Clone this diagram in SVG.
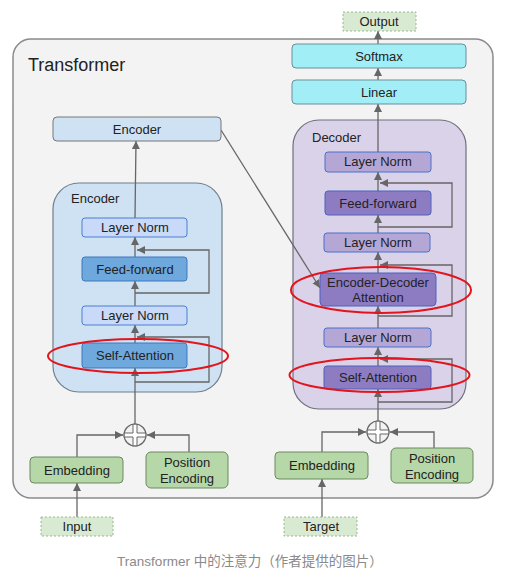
<svg xmlns="http://www.w3.org/2000/svg" width="507" height="578" viewBox="0 0 507 578">
<defs>
<marker id="ah" markerUnits="userSpaceOnUse" markerWidth="9" markerHeight="8" refX="8" refY="4" orient="auto">
<path d="M0,0 L8,4 L0,8 z" fill="#666"/>
</marker>
</defs>
<style>
text{font-family:"Liberation Sans",Arial,sans-serif;font-size:13px;fill:#222;text-anchor:middle}
.lbl{text-anchor:start}
.c{fill:none;stroke:#666;stroke-width:1.3}
.ca{fill:none;stroke:#666;stroke-width:1.3;marker-end:url(#ah)}
.enc-ln{fill:#c9daf8;stroke:#4a7fd0;stroke-width:1}
.enc-op{fill:#6fa8dc;stroke:#3d78c0;stroke-width:1}
.dec-ln{fill:#b4a7d6;stroke:#4a70cc;stroke-width:1}
.dec-op{fill:#8e7cc3;stroke:#4a62c0;stroke-width:1}
.cyan{fill:#a2eef7;stroke:#6a8f99;stroke-width:1}
.green{fill:#b6d7a8;stroke:#6b8a60;stroke-width:1}
.io{fill:#d9ead3;stroke:#9bb88f;stroke-width:1;stroke-dasharray:2 2}
.red{fill:none;stroke:#e3141b;stroke-width:2}
</style>
<rect width="507" height="578" fill="#ffffff"/>
<g id="transformer">
<rect x="13" y="39" width="480" height="459" rx="18" fill="#f3f3f3" stroke="#8a8a8a" stroke-width="1.5"/>
<text class="lbl" x="28" y="71" style="font-size:18px">Transformer</text>
</g>
<g id="encoder-group">
<rect x="53" y="183" width="169" height="209" rx="26" fill="#cfe2f3" stroke="#6f7f8c" stroke-width="1.2"/>
<text class="lbl" x="71" y="203">Encoder</text>
</g>
<g id="decoder-group">
<rect x="293" y="120" width="173" height="289" rx="26" fill="#d9d2e9" stroke="#6f6f7c" stroke-width="1.2"/>
<text class="lbl" x="312" y="142">Decoder</text>
</g>
<g id="connectors">
<path class="ca" d="M135,425 V368"/>
<path class="ca" d="M135,343 V325"/>
<path class="ca" d="M135,306 V281"/>
<path class="ca" d="M135,257 V237"/>
<path class="ca" d="M135,218 L136,141"/>
<path class="ca" d="M135,293 H209 V250 H137"/>
<path class="ca" d="M135,382 H209 V337 H137"/>
<path class="ca" d="M77,457 V435 H123"/>
<path class="ca" d="M189,452 V435 H147"/>
<path class="ca" d="M77,517 V483"/>
<path class="ca" d="M221,130 L320,288"/>
<path class="ca" d="M378,421 V389"/>
<path class="ca" d="M378,366 V347"/>
<path class="ca" d="M378,328 V306"/>
<path class="ca" d="M378,273 V252"/>
<path class="ca" d="M378,233 V215"/>
<path class="ca" d="M378,191 V172"/>
<path class="ca" d="M378,152 V104"/>
<path class="ca" d="M378,80 V68"/>
<path class="ca" d="M378,44 V31"/>
<path class="ca" d="M378,227 H452 V183 H380"/>
<path class="ca" d="M378,316 H452 V265 H380"/>
<path class="ca" d="M378,402 H452 V359 H380"/>
<path class="ca" d="M322,452 V432 H366"/>
<path class="ca" d="M434,448 V432 H390"/>
<path class="ca" d="M322,517 V479"/>
</g>
<g id="encoder-top">
<rect x="53" y="117" width="168" height="24" rx="4" fill="#cfe2f3" stroke="#777" stroke-width="1"/>
<text x="137" y="134">Encoder</text>
</g>
<g id="enc-layernorm-2">
<rect class="enc-ln" x="82" y="218" width="105" height="19" rx="3"/>
<text x="135" y="232">Layer Norm</text>
</g>
<g id="enc-feedforward">
<rect class="enc-op" x="82" y="257" width="105" height="24" rx="3"/>
<text x="135" y="274">Feed-forward</text>
</g>
<g id="enc-layernorm-1">
<rect class="enc-ln" x="82" y="306" width="105" height="19" rx="3"/>
<text x="135" y="320">Layer Norm</text>
</g>
<g id="enc-selfattention">
<rect class="enc-op" x="82" y="343" width="105" height="25" rx="3"/>
<text x="135" y="360">Self-Attention</text>
</g>
<g id="dec-layernorm-3">
<rect class="dec-ln" x="325" y="152" width="106" height="20" rx="3"/>
<text x="378" y="166">Layer Norm</text>
</g>
<g id="dec-feedforward">
<rect class="dec-op" x="325" y="191" width="106" height="24" rx="3"/>
<text x="378" y="208">Feed-forward</text>
</g>
<g id="dec-layernorm-2">
<rect class="dec-ln" x="324" y="233" width="106" height="19" rx="3"/>
<text x="378" y="247">Layer Norm</text>
</g>
<g id="dec-encdec-attention">
<rect class="dec-op" x="320" y="273" width="116" height="33" rx="4"/>
<text x="378" y="287">Encoder-Decoder</text>
<text x="378" y="302">Attention</text>
</g>
<g id="dec-layernorm-1">
<rect class="dec-ln" x="324" y="328" width="107" height="19" rx="3"/>
<text x="378" y="342">Layer Norm</text>
</g>
<g id="dec-selfattention">
<rect class="dec-op" x="324" y="366" width="107" height="23" rx="3"/>
<text x="378" y="382">Self-Attention</text>
</g>
<g id="linear">
<rect class="cyan" x="292" y="80" width="174" height="24" rx="4"/>
<text x="379" y="97">Linear</text>
</g>
<g id="softmax">
<rect class="cyan" x="292" y="44" width="174" height="24" rx="4"/>
<text x="379" y="61">Softmax</text>
</g>
<g id="output">
<rect class="io" x="343" y="12" width="73" height="19"/>
<text x="379" y="26">Output</text>
</g>
<g id="enc-plus">
<circle cx="135" cy="435" r="11" fill="#f3f3f3" stroke="#666" stroke-width="1.2"/>
<path d="M133,424.2 H137 V433 H145.8 V437 H137 V445.8 H133 V437 H124.2 V433 H133 Z" fill="#fff" stroke="#666" stroke-width="1"/>
</g>
<g id="dec-plus">
<circle cx="378" cy="432" r="11" fill="#f3f3f3" stroke="#666" stroke-width="1.2"/>
<path d="M376,421.2 H380 V430 H388.8 V434 H380 V442.8 H376 V434 H367.2 V430 H376 Z" fill="#fff" stroke="#666" stroke-width="1"/>
</g>
<g id="enc-embedding">
<rect class="green" x="30" y="457" width="93" height="26" rx="4"/>
<text x="77" y="475">Embedding</text>
</g>
<g id="enc-position">
<rect class="green" x="146" y="452" width="82" height="36" rx="5"/>
<text x="187" y="467">Position</text>
<text x="187" y="483">Encoding</text>
</g>
<g id="dec-embedding">
<rect class="green" x="275" y="452" width="93" height="27" rx="4"/>
<text x="322" y="470">Embedding</text>
</g>
<g id="dec-position">
<rect class="green" x="391" y="448" width="82" height="35" rx="5"/>
<text x="432" y="463">Position</text>
<text x="432" y="479">Encoding</text>
</g>
<g id="input">
<rect class="io" x="41" y="517" width="72" height="19"/>
<text x="77" y="531">Input</text>
</g>
<g id="target">
<rect class="io" x="284" y="517" width="73" height="19"/>
<text x="321" y="531">Target</text>
</g>
<g id="highlights">
<ellipse class="red" cx="138" cy="356" rx="90" ry="17"/>
<ellipse class="red" cx="381" cy="290" rx="90" ry="23"/>
<ellipse class="red" cx="379.5" cy="375" rx="90" ry="17"/>
</g>
<text x="250" y="566" style="font-family:'Liberation Sans','Noto Sans CJK SC',sans-serif;font-size:13.5px;fill:#8a8a8a">Transformer 中的注意力（作者提供的图片）</text>
</svg>
